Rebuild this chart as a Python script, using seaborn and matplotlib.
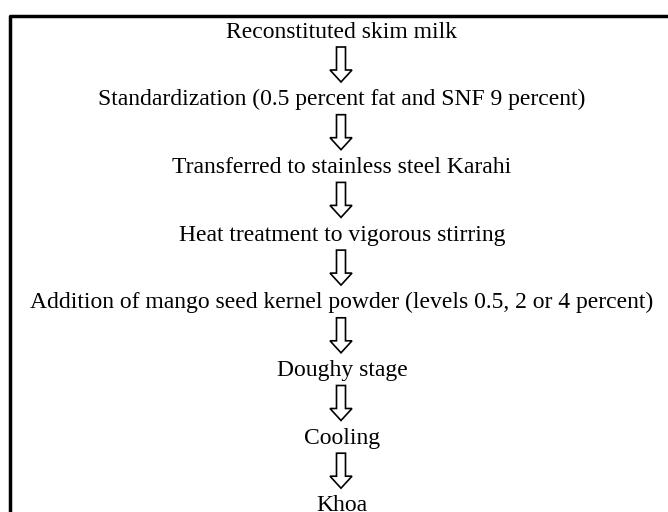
import matplotlib
matplotlib.use("Agg")
import matplotlib.pyplot as plt
import seaborn as sns
import pandas as pd

# steps of the flow chart, top to bottom
steps = [
    "Reconstituted skim milk",
    "Standardization (0.5 percent fat and SNF 9 percent)",
    "Transferred to stainless steel Karahi",
    "Heat treatment to vigorous stirring",
    "Addition of mango seed kernel powder (levels 0.5, 2 or 4 percent)",
    "Doughy stage",
    "Cooling",
    "Khoa",
]

sns.set_theme(style="white")
plt.rcParams['font.family'] = ['Liberation Serif', 'DejaVu Serif']

fig = plt.figure(figsize=(6.68, 5.12), dpi=100)
ax = fig.add_axes([0, 0, 1, 1])
ax.set_xlim(0, 668)
ax.set_ylim(512, 0)
ax.axis('off')

cx = 342
y0, dy = 32, 67.7

# box border (open on the right and bottom, as in the figure)
border = pd.DataFrame({'x': [10, 10, 680], 'y': [530, 16, 16]})
sns.lineplot(data=border, x='x', y='y', sort=False, estimator=None,
             color='black', lw=2.5, ax=ax)

for i, s in enumerate(steps):
    y = y0 + i * dy
    ax.text(cx, y, s, ha='center', va='center', fontsize=17, color='black')
    if i < len(steps) - 1:
        ax.arrow(cx - 1, y + 15, 0, 35 - 12, width=9, head_width=22, head_length=12,
                 length_includes_head=False, fc='white', ec='black', lw=1.2)

ax.set_xlabel('')
ax.set_ylabel('')
fig.savefig('out.png', dpi=100)
